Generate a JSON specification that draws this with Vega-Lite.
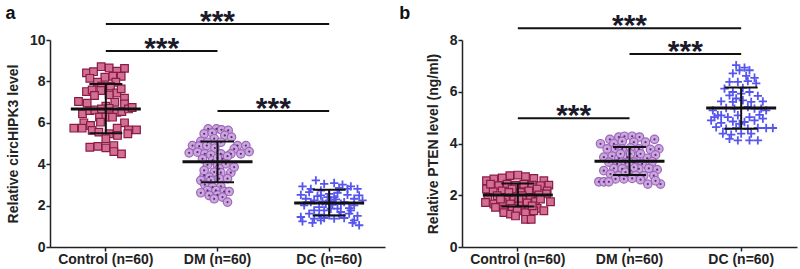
{
"$schema":"https://vega.github.io/schema/vega-lite/v6.json",
"background":"white",
"padding":5,
"spacing":77,
"bounds":"flush",
"config":{"view":{"stroke":null},"axis":{"grid":false,"domainColor":"#222","domainWidth":1.5,"tickColor":"#222","tickWidth":1.5,"tickSize":4,"labelFont":"Liberation Sans","labelFontWeight":"bold","labelFontSize":14,"labelColor":"#222","titleFont":"Liberation Sans","titleFontWeight":"bold","titleFontSize":14,"titleColor":"#222"}},
"datasets":{
"a":[
{"g":"Control","v":8.71,"j":-14},{"g":"Control","v":8.65,"j":10},{"g":"Control","v":8.63,"j":56},{"g":"Control","v":8.49,"j":33},{"g":"Control","v":8.41,"j":-58},{"g":"Control","v":8.47,"j":-37},{"g":"Control","v":8.15,"j":-48},{"g":"Control","v":8.2,"j":-3},{"g":"Control","v":8.25,"j":21},{"g":"Control","v":8.25,"j":46},{"g":"Control","v":7.96,"j":-25},{"g":"Control","v":7.96,"j":30},{"g":"Control","v":7.77,"j":-13},{"g":"Control","v":7.77,"j":14},{"g":"Control","v":7.51,"j":-58},{"g":"Control","v":7.59,"j":-41},{"g":"Control","v":7.56,"j":-15},{"g":"Control","v":7.44,"j":33},{"g":"Control","v":7.64,"j":46},{"g":"Control","v":7.32,"j":-34},{"g":"Control","v":7.35,"j":10},{"g":"Control","v":7.19,"j":56},{"g":"Control","v":7.03,"j":-82},{"g":"Control","v":6.95,"j":-56},{"g":"Control","v":6.99,"j":27},{"g":"Control","v":6.91,"j":56},{"g":"Control","v":6.8,"j":0},{"g":"Control","v":6.43,"j":-70},{"g":"Control","v":6.59,"j":-48},{"g":"Control","v":6.62,"j":-33},{"g":"Control","v":6.67,"j":-13},{"g":"Control","v":6.7,"j":10},{"g":"Control","v":6.51,"j":33},{"g":"Control","v":6.54,"j":48},{"g":"Control","v":6.67,"j":68},{"g":"Control","v":6.74,"j":79},{"g":"Control","v":6.27,"j":-19},{"g":"Control","v":6.27,"j":0},{"g":"Control","v":6.27,"j":20},{"g":"Control","v":6.03,"j":-16},{"g":"Control","v":6.0,"j":-66},{"g":"Control","v":6.0,"j":56},{"g":"Control","v":5.74,"j":-96},{"g":"Control","v":5.74,"j":-71},{"g":"Control","v":5.87,"j":-46},{"g":"Control","v":5.74,"j":34},{"g":"Control","v":5.66,"j":68},{"g":"Control","v":5.66,"j":92},{"g":"Control","v":5.63,"j":-41},{"g":"Control","v":5.55,"j":-21},{"g":"Control","v":5.47,"j":10},{"g":"Control","v":5.39,"j":35},{"g":"Control","v":5.23,"j":0},{"g":"Control","v":4.82,"j":-48},{"g":"Control","v":4.86,"j":-24},{"g":"Control","v":4.79,"j":0},{"g":"Control","v":4.9,"j":24},{"g":"Control","v":4.61,"j":24},{"g":"Control","v":4.5,"j":47},{"g":"Control","v":5.47,"j":66},
{"g":"DM","v":5.71,"j":-28},{"g":"DM","v":5.71,"j":-3},{"g":"DM","v":5.66,"j":12},{"g":"DM","v":5.63,"j":32},{"g":"DM","v":5.47,"j":-40},{"g":"DM","v":5.51,"j":-16},{"g":"DM","v":5.39,"j":22},{"g":"DM","v":5.31,"j":42},{"g":"DM","v":5.23,"j":-10},{"g":"DM","v":5.1,"j":-50},{"g":"DM","v":5.06,"j":-30},{"g":"DM","v":5.06,"j":10},{"g":"DM","v":4.9,"j":-75},{"g":"DM","v":4.87,"j":-55},{"g":"DM","v":4.9,"j":-32},{"g":"DM","v":4.78,"j":-8},{"g":"DM","v":4.9,"j":60},{"g":"DM","v":4.9,"j":85},{"g":"DM","v":4.74,"j":50},{"g":"DM","v":4.55,"j":-85},{"g":"DM","v":4.58,"j":-60},{"g":"DM","v":4.5,"j":-38},{"g":"DM","v":4.45,"j":-20},{"g":"DM","v":4.5,"j":10},{"g":"DM","v":4.5,"j":40},{"g":"DM","v":4.61,"j":95},{"g":"DM","v":4.5,"j":70},{"g":"DM","v":4.26,"j":-45},{"g":"DM","v":4.18,"j":-15},{"g":"DM","v":4.26,"j":15},{"g":"DM","v":4.39,"j":30},{"g":"DM","v":3.97,"j":-30},{"g":"DM","v":3.94,"j":0},{"g":"DM","v":4.02,"j":25},{"g":"DM","v":3.78,"j":5},{"g":"DM","v":3.62,"j":-10},{"g":"DM","v":3.59,"j":10},{"g":"DM","v":3.59,"j":40},{"g":"DM","v":3.46,"j":-40},{"g":"DM","v":3.38,"j":-25},{"g":"DM","v":3.22,"j":-50},{"g":"DM","v":3.22,"j":-20},{"g":"DM","v":3.3,"j":30},{"g":"DM","v":3.3,"j":5},{"g":"DM","v":3.01,"j":-38},{"g":"DM","v":2.89,"j":-15},{"g":"DM","v":2.93,"j":10},{"g":"DM","v":2.73,"j":-30},{"g":"DM","v":2.73,"j":-5},{"g":"DM","v":2.68,"j":20},{"g":"DM","v":2.68,"j":35},{"g":"DM","v":2.62,"j":-50},{"g":"DM","v":2.49,"j":-25},{"g":"DM","v":2.52,"j":0},{"g":"DM","v":2.33,"j":-10},{"g":"DM","v":2.41,"j":15},{"g":"DM","v":2.17,"j":30},{"g":"DM","v":4.3,"j":0},{"g":"DM","v":3.86,"j":50},{"g":"DM","v":3.7,"j":-40},
{"g":"DC","v":3.22,"j":-40},{"g":"DC","v":3.05,"j":-15},{"g":"DC","v":3.09,"j":15},{"g":"DC","v":3.01,"j":40},{"g":"DC","v":2.93,"j":65},{"g":"DC","v":2.93,"j":-80},{"g":"DC","v":2.81,"j":-55},{"g":"DC","v":2.73,"j":-25},{"g":"DC","v":2.81,"j":85},{"g":"DC","v":2.52,"j":-85},{"g":"DC","v":2.65,"j":-60},{"g":"DC","v":2.46,"j":-35},{"g":"DC","v":2.57,"j":0},{"g":"DC","v":2.62,"j":25},{"g":"DC","v":2.52,"j":55},{"g":"DC","v":2.49,"j":90},{"g":"DC","v":2.33,"j":-70},{"g":"DC","v":2.25,"j":-45},{"g":"DC","v":2.2,"j":-20},{"g":"DC","v":2.2,"j":5},{"g":"DC","v":2.3,"j":20},{"g":"DC","v":2.17,"j":45},{"g":"DC","v":2.33,"j":75},{"g":"DC","v":2.09,"j":-10},{"g":"DC","v":2.04,"j":10},{"g":"DC","v":2.09,"j":35},{"g":"DC","v":1.93,"j":-30},{"g":"DC","v":1.77,"j":-45},{"g":"DC","v":1.77,"j":-15},{"g":"DC","v":1.85,"j":25},{"g":"DC","v":1.88,"j":60},{"g":"DC","v":1.61,"j":-60},{"g":"DC","v":1.56,"j":-30},{"g":"DC","v":1.53,"j":0},{"g":"DC","v":1.53,"j":30},{"g":"DC","v":1.61,"j":60},{"g":"DC","v":1.5,"j":85},{"g":"DC","v":1.37,"j":-45},{"g":"DC","v":1.4,"j":-15},{"g":"DC","v":1.37,"j":15},{"g":"DC","v":1.4,"j":45},{"g":"DC","v":1.29,"j":75},{"g":"DC","v":1.24,"j":-80},{"g":"DC","v":1.17,"j":-50},{"g":"DC","v":1.17,"j":70},{"g":"DC","v":1.05,"j":90},{"g":"DC","v":2.41,"j":-5},{"g":"DC","v":2.41,"j":15},{"g":"DC","v":2.17,"j":-55},{"g":"DC","v":2.01,"j":75},{"g":"DC","v":2.01,"j":-75},{"g":"DC","v":1.85,"j":5},{"g":"DC","v":2.25,"j":100},{"g":"DC","v":1.69,"j":35},{"g":"DC","v":2.49,"j":-25},{"g":"DC","v":2.81,"j":55},{"g":"DC","v":2.85,"j":30},{"g":"DC","v":1.77,"j":65},{"g":"DC","v":1.29,"j":-25},{"g":"DC","v":1.45,"j":-85}
],
"b":[
{"g":"Control","v":2.76,"j":-24},{"g":"Control","v":2.78,"j":0},{"g":"Control","v":2.72,"j":23},{"g":"Control","v":2.67,"j":-47},{"g":"Control","v":2.65,"j":48},{"g":"Control","v":2.56,"j":-94},{"g":"Control","v":2.63,"j":-72},{"g":"Control","v":2.56,"j":78},{"g":"Control","v":2.39,"j":93},{"g":"Control","v":2.37,"j":-57},{"g":"Control","v":2.43,"j":-32},{"g":"Control","v":2.39,"j":-7},{"g":"Control","v":2.43,"j":18},{"g":"Control","v":2.39,"j":43},{"g":"Control","v":2.37,"j":68},{"g":"Control","v":2.24,"j":-94},{"g":"Control","v":2.14,"j":-74},{"g":"Control","v":2.17,"j":-47},{"g":"Control","v":2.24,"j":-17},{"g":"Control","v":2.11,"j":8},{"g":"Control","v":2.17,"j":33},{"g":"Control","v":2.24,"j":58},{"g":"Control","v":2.17,"j":88},{"g":"Control","v":1.92,"j":-90},{"g":"Control","v":1.98,"j":-62},{"g":"Control","v":1.92,"j":-37},{"g":"Control","v":1.95,"j":-12},{"g":"Control","v":1.98,"j":13},{"g":"Control","v":1.92,"j":38},{"g":"Control","v":2.01,"j":63},{"g":"Control","v":2.05,"j":86},{"g":"Control","v":1.72,"j":-97},{"g":"Control","v":1.66,"j":-72},{"g":"Control","v":1.72,"j":-47},{"g":"Control","v":1.66,"j":-22},{"g":"Control","v":1.72,"j":3},{"g":"Control","v":1.7,"j":28},{"g":"Control","v":1.75,"j":53},{"g":"Control","v":1.75,"j":98},{"g":"Control","v":1.53,"j":-67},{"g":"Control","v":1.46,"j":-42},{"g":"Control","v":1.49,"j":-17},{"g":"Control","v":1.46,"j":8},{"g":"Control","v":1.46,"j":33},{"g":"Control","v":1.49,"j":58},{"g":"Control","v":1.33,"j":-42},{"g":"Control","v":1.27,"j":-22},{"g":"Control","v":1.4,"j":-2},{"g":"Control","v":1.33,"j":23},{"g":"Control","v":1.4,"j":48},{"g":"Control","v":1.4,"j":78},{"g":"Control","v":1.07,"j":23},{"g":"Control","v":1.07,"j":40},{"g":"Control","v":1.2,"j":-7},{"g":"Control","v":2.43,"j":-82},{"g":"Control","v":1.85,"j":68},{"g":"Control","v":1.85,"j":-52},{"g":"Control","v":1.88,"j":3},{"g":"Control","v":2.11,"j":-27},{"g":"Control","v":1.59,"j":43},
{"g":"DM","v":4.25,"j":-32},{"g":"DM","v":4.28,"j":-15},{"g":"DM","v":4.28,"j":8},{"g":"DM","v":4.25,"j":30},{"g":"DM","v":4.16,"j":-59},{"g":"DM","v":4.16,"j":75},{"g":"DM","v":3.99,"j":-87},{"g":"DM","v":3.99,"j":-47},{"g":"DM","v":4.08,"j":-22},{"g":"DM","v":4.05,"j":13},{"g":"DM","v":4.05,"j":48},{"g":"DM","v":3.79,"j":-67},{"g":"DM","v":3.79,"j":-42},{"g":"DM","v":3.79,"j":-22},{"g":"DM","v":3.83,"j":3},{"g":"DM","v":3.79,"j":28},{"g":"DM","v":3.79,"j":88},{"g":"DM","v":3.77,"j":63},{"g":"DM","v":3.47,"j":-77},{"g":"DM","v":3.51,"j":-52},{"g":"DM","v":3.43,"j":-32},{"g":"DM","v":3.47,"j":-7},{"g":"DM","v":3.51,"j":23},{"g":"DM","v":3.43,"j":53},{"g":"DM","v":3.56,"j":78},{"g":"DM","v":3.28,"j":-62},{"g":"DM","v":3.21,"j":-37},{"g":"DM","v":3.25,"j":-12},{"g":"DM","v":3.28,"j":13},{"g":"DM","v":3.21,"j":38},{"g":"DM","v":3.3,"j":68},{"g":"DM","v":2.95,"j":-77},{"g":"DM","v":3.04,"j":-47},{"g":"DM","v":3.02,"j":-22},{"g":"DM","v":2.95,"j":3},{"g":"DM","v":3.02,"j":28},{"g":"DM","v":3.04,"j":58},{"g":"DM","v":2.99,"j":83},{"g":"DM","v":2.82,"j":-57},{"g":"DM","v":2.76,"j":-32},{"g":"DM","v":2.76,"j":-7},{"g":"DM","v":2.78,"j":18},{"g":"DM","v":2.76,"j":43},{"g":"DM","v":2.76,"j":73},{"g":"DM","v":2.63,"j":-42},{"g":"DM","v":2.63,"j":-17},{"g":"DM","v":2.65,"j":8},{"g":"DM","v":2.6,"j":33},{"g":"DM","v":2.52,"j":-92},{"g":"DM","v":2.52,"j":-77},{"g":"DM","v":2.52,"j":-62},{"g":"DM","v":2.43,"j":55},{"g":"DM","v":2.43,"j":93},{"g":"DM","v":2.56,"j":78},{"g":"DM","v":3.6,"j":3},{"g":"DM","v":3.6,"j":33},{"g":"DM","v":3.6,"j":-27},{"g":"DM","v":3.08,"j":13},{"g":"DM","v":3.28,"j":-2},{"g":"DM","v":2.89,"j":-12},
{"g":"DC","v":7.03,"j":-15},{"g":"DC","v":6.93,"j":10},{"g":"DC","v":6.83,"j":25},{"g":"DC","v":6.83,"j":-5},{"g":"DC","v":6.71,"j":-25},{"g":"DC","v":6.61,"j":15},{"g":"DC","v":6.54,"j":40},{"g":"DC","v":6.38,"j":-35},{"g":"DC","v":6.38,"j":-10},{"g":"DC","v":6.41,"j":20},{"g":"DC","v":6.32,"j":45},{"g":"DC","v":6.15,"j":5},{"g":"DC","v":5.99,"j":-25},{"g":"DC","v":5.93,"j":0},{"g":"DC","v":5.99,"j":25},{"g":"DC","v":5.84,"j":50},{"g":"DC","v":5.86,"j":-35},{"g":"DC","v":5.63,"j":-60},{"g":"DC","v":5.61,"j":-25},{"g":"DC","v":5.67,"j":5},{"g":"DC","v":5.61,"j":30},{"g":"DC","v":5.63,"j":65},{"g":"DC","v":5.37,"j":-45},{"g":"DC","v":5.35,"j":-20},{"g":"DC","v":5.41,"j":20},{"g":"DC","v":5.35,"j":40},{"g":"DC","v":5.28,"j":75},{"g":"DC","v":5.28,"j":-85},{"g":"DC","v":5.09,"j":-70},{"g":"DC","v":5.02,"j":-40},{"g":"DC","v":5.09,"j":-10},{"g":"DC","v":5.02,"j":25},{"g":"DC","v":5.11,"j":55},{"g":"DC","v":4.89,"j":-90},{"g":"DC","v":4.8,"j":-60},{"g":"DC","v":4.85,"j":-25},{"g":"DC","v":4.83,"j":10},{"g":"DC","v":4.89,"j":40},{"g":"DC","v":4.96,"j":65},{"g":"DC","v":4.63,"j":-75},{"g":"DC","v":4.57,"j":-45},{"g":"DC","v":4.6,"j":-15},{"g":"DC","v":4.57,"j":20},{"g":"DC","v":4.6,"j":50},{"g":"DC","v":4.6,"j":75},{"g":"DC","v":4.6,"j":95},{"g":"DC","v":4.38,"j":-55},{"g":"DC","v":4.34,"j":-30},{"g":"DC","v":4.38,"j":0},{"g":"DC","v":4.38,"j":30},{"g":"DC","v":4.18,"j":-35},{"g":"DC","v":4.12,"j":-10},{"g":"DC","v":4.12,"j":25},{"g":"DC","v":4.12,"j":50},{"g":"DC","v":6.12,"j":-50},{"g":"DC","v":5.74,"j":-15},{"g":"DC","v":5.09,"j":-60},{"g":"DC","v":5.35,"j":60},{"g":"DC","v":4.76,"j":-5},{"g":"DC","v":5.02,"j":-80}
],
"sa":[{"g":"Control","m":6.67,"hi":7.88,"lo":5.5},{"g":"DM","m":4.12,"hi":5.1,"lo":3.13},{"g":"DC","m":2.13,"hi":2.76,"lo":1.52}],
"sb":[{"g":"Control","m":2.01,"hi":2.45,"lo":1.57},{"g":"DM","m":3.31,"hi":3.86,"lo":2.78},{"g":"DC","m":5.37,"hi":6.16,"lo":4.57}],
"siga":[{"g1":"Control","g2":"DC","y":10.77,"s":"DM","o":0},{"g1":"Control","g2":"DM","y":9.47,"s":"Control","o":167.5},{"g1":"DM","g2":"DC","y":6.57,"s":"DM","o":167.5}],
"sigb":[{"g1":"Control","g2":"DC","y":8.45,"s":"DM","o":0},{"g1":"Control","g2":"DM","y":4.98,"s":"Control","o":167.5},{"g1":"DM","g2":"DC","y":7.46,"s":"DM","o":167.5}]
},
"hconcat":[
{
"width":335,"height":207,
"title":{"text":"a","anchor":"start","frame":"bounds","orient":"top","dy":34,"dx":-1,"baseline":"alphabetic","font":"Liberation Sans","fontSize":18,"fontWeight":"bold","color":"#111"},
"layer":[
{"data":{"name":"a"},"transform":[{"filter":"datum.g=='Control'"}],"mark":{"type":"point","shape":"square","filled":true,"fill":"#d36f94","stroke":"#8a1c44","strokeWidth":1.2,"size":58,"opacity":1},
"encoding":{"x":{"field":"g","type":"nominal","scale":{"domain":["Control","DM","DC"],"paddingInner":0,"paddingOuter":0},"title":null,"axis":{"labelAngle":0,"labelPadding":1,"labelExpr":"datum.value + ' (n=60)'"}},"xOffset":{"field":"j","type":"quantitative","scale":{"domain":[-167.5,167.5],"range":[0,111.67]}},"y":{"field":"v","type":"quantitative","scale":{"domain":[0,10],"nice":false},"title":"Relative circHIPK3 level","axis":{"values":[0,2,4,6,8,10],"titlePadding":9,"labelPadding":1}}}},
{"data":{"name":"a"},"transform":[{"filter":"datum.g=='DM'"}],"mark":{"type":"point","shape":"circle","filled":true,"fill":"#cda6de","stroke":"#9a68bb","strokeWidth":1.2,"size":72,"opacity":1},
"encoding":{"x":{"field":"g","type":"nominal","title":null},"xOffset":{"field":"j","type":"quantitative"},"y":{"field":"v","type":"quantitative","title":"Relative circHIPK3 level"}}},
{"data":{"name":"a"},"transform":[{"filter":"datum.g=='DM'"}],"mark":{"type":"point","shape":"circle","filled":true,"fill":"#5a2f78","size":5,"opacity":1},
"encoding":{"x":{"field":"g","type":"nominal","title":null},"xOffset":{"field":"j","type":"quantitative"},"y":{"field":"v","type":"quantitative","title":"Relative circHIPK3 level"}}},
{"data":{"name":"a"},"transform":[{"filter":"datum.g=='DC'"}],"mark":{"type":"point","shape":"M-1,0H1M0,-1V1","filled":false,"stroke":"#5656ee","strokeWidth":1.8,"size":70,"opacity":1},
"encoding":{"x":{"field":"g","type":"nominal","title":null},"xOffset":{"field":"j","type":"quantitative"},"y":{"field":"v","type":"quantitative","title":"Relative circHIPK3 level"}}},
{"data":{"name":"sa"},"mark":{"type":"tick","color":"#111","size":70,"thickness":3,"opacity":1},"encoding":{"x":{"field":"g","type":"nominal","title":null},"y":{"field":"m","type":"quantitative","title":"Relative circHIPK3 level"}}},
{"data":{"name":"sa"},"mark":{"type":"tick","color":"#111","size":33,"thickness":2,"opacity":1},"encoding":{"x":{"field":"g","type":"nominal","title":null},"y":{"field":"hi","type":"quantitative","title":"Relative circHIPK3 level"}}},
{"data":{"name":"sa"},"mark":{"type":"tick","color":"#111","size":33,"thickness":2,"opacity":1},"encoding":{"x":{"field":"g","type":"nominal","title":null},"y":{"field":"lo","type":"quantitative","title":"Relative circHIPK3 level"}}},
{"data":{"name":"sa"},"mark":{"type":"rule","color":"#111","strokeWidth":2},"encoding":{"x":{"field":"g","type":"nominal","title":null},"y":{"field":"lo","type":"quantitative","title":"Relative circHIPK3 level"},"y2":{"field":"hi"}}},
{"data":{"name":"siga"},"mark":{"type":"rule","color":"#111","strokeWidth":2},"encoding":{"x":{"field":"g1","type":"nominal","title":null},"x2":{"field":"g2"},"y":{"field":"y","type":"quantitative","title":"Relative circHIPK3 level"}}},
{"data":{"name":"siga"},"mark":{"type":"text","text":"***","font":"Liberation Sans","fontSize":30,"fontWeight":"bold","color":"#1a1a2a","baseline":"alphabetic","dy":7},"encoding":{"x":{"field":"s","type":"nominal","title":null},"xOffset":{"field":"o","type":"quantitative"},"y":{"field":"y","type":"quantitative","title":"Relative circHIPK3 level"}}}
]
},
{
"width":335,"height":207,
"title":{"text":"b","anchor":"start","frame":"bounds","orient":"top","dy":30,"dx":-27,"baseline":"alphabetic","font":"Liberation Sans","fontSize":18,"fontWeight":"bold","color":"#111"},
"layer":[
{"data":{"name":"b"},"transform":[{"filter":"datum.g=='Control'"}],"mark":{"type":"point","shape":"square","filled":true,"fill":"#d36f94","stroke":"#8a1c44","strokeWidth":1.2,"size":58,"opacity":1},
"encoding":{"x":{"field":"g","type":"nominal","scale":{"domain":["Control","DM","DC"],"paddingInner":0,"paddingOuter":0},"title":null,"axis":{"labelAngle":0,"labelPadding":1,"labelExpr":"datum.value + ' (n=60)'"}},"xOffset":{"field":"j","type":"quantitative","scale":{"domain":[-167.5,167.5],"range":[0,111.67]}},"y":{"field":"v","type":"quantitative","scale":{"domain":[0,8],"nice":false},"title":"Relative PTEN level (ng/ml)","axis":{"values":[0,2,4,6,8],"titlePadding":9,"labelPadding":1}}}},
{"data":{"name":"b"},"transform":[{"filter":"datum.g=='DM'"}],"mark":{"type":"point","shape":"circle","filled":true,"fill":"#cda6de","stroke":"#9a68bb","strokeWidth":1.2,"size":72,"opacity":1},
"encoding":{"x":{"field":"g","type":"nominal","title":null},"xOffset":{"field":"j","type":"quantitative"},"y":{"field":"v","type":"quantitative","title":"Relative PTEN level (ng/ml)"}}},
{"data":{"name":"b"},"transform":[{"filter":"datum.g=='DM'"}],"mark":{"type":"point","shape":"circle","filled":true,"fill":"#5a2f78","size":5,"opacity":1},
"encoding":{"x":{"field":"g","type":"nominal","title":null},"xOffset":{"field":"j","type":"quantitative"},"y":{"field":"v","type":"quantitative","title":"Relative PTEN level (ng/ml)"}}},
{"data":{"name":"b"},"transform":[{"filter":"datum.g=='DC'"}],"mark":{"type":"point","shape":"M-1,0H1M0,-1V1","filled":false,"stroke":"#5656ee","strokeWidth":1.8,"size":70,"opacity":1},
"encoding":{"x":{"field":"g","type":"nominal","title":null},"xOffset":{"field":"j","type":"quantitative"},"y":{"field":"v","type":"quantitative","title":"Relative PTEN level (ng/ml)"}}},
{"data":{"name":"sb"},"mark":{"type":"tick","color":"#111","size":70,"thickness":3,"opacity":1},"encoding":{"x":{"field":"g","type":"nominal","title":null},"y":{"field":"m","type":"quantitative","title":"Relative PTEN level (ng/ml)"}}},
{"data":{"name":"sb"},"mark":{"type":"tick","color":"#111","size":33,"thickness":2,"opacity":1},"encoding":{"x":{"field":"g","type":"nominal","title":null},"y":{"field":"hi","type":"quantitative","title":"Relative PTEN level (ng/ml)"}}},
{"data":{"name":"sb"},"mark":{"type":"tick","color":"#111","size":33,"thickness":2,"opacity":1},"encoding":{"x":{"field":"g","type":"nominal","title":null},"y":{"field":"lo","type":"quantitative","title":"Relative PTEN level (ng/ml)"}}},
{"data":{"name":"sb"},"mark":{"type":"rule","color":"#111","strokeWidth":2},"encoding":{"x":{"field":"g","type":"nominal","title":null},"y":{"field":"lo","type":"quantitative","title":"Relative PTEN level (ng/ml)"},"y2":{"field":"hi"}}},
{"data":{"name":"sigb"},"mark":{"type":"rule","color":"#111","strokeWidth":2},"encoding":{"x":{"field":"g1","type":"nominal","title":null},"x2":{"field":"g2"},"y":{"field":"y","type":"quantitative","title":"Relative PTEN level (ng/ml)"}}},
{"data":{"name":"sigb"},"mark":{"type":"text","text":"***","font":"Liberation Sans","fontSize":30,"fontWeight":"bold","color":"#1a1a2a","baseline":"alphabetic","dy":7},"encoding":{"x":{"field":"s","type":"nominal","title":null},"xOffset":{"field":"o","type":"quantitative"},"y":{"field":"y","type":"quantitative","title":"Relative PTEN level (ng/ml)"}}}
]
}
]
}
